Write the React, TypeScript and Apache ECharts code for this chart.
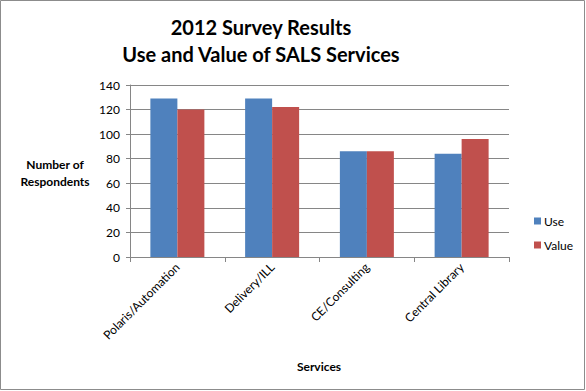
import React, { useEffect, useRef } from "react";
import * as echarts from "echarts";

const categories = ["Polaris/Automation", "Delivery/ILL", "CE/Consulting", "Central Library"];
const useValues = [129, 129, 86, 84];
const valueValues = [120, 122, 86, 96];
const seriesNames = ["Use", "Value"];
const titleLines = ["2012 Survey Results", "Use and Value of SALS Services"];
const yAxisTitle = ["Number of", "Respondents"];
const xAxisTitle = "Services";

const FONT = "Lato, 'Noto Sans', sans-serif";

export default function App() {
  const ref = useRef<HTMLDivElement>(null);
  useEffect(() => {
    if (!ref.current) return;
    const chart = echarts.init(ref.current, null, { renderer: "svg" });
    chart.setOption({
      animation: false,
      backgroundColor: "#ffffff",
      textStyle: { fontFamily: FONT },
      grid: { left: 130, right: 77, top: 85, bottom: 134 },
      legend: {
        orient: "vertical",
        left: 529,
        top: 210,
        itemWidth: 7,
        itemHeight: 7,
        itemGap: 12,
        icon: "rect",
        textStyle: { fontSize: 12, color: "#000", fontFamily: FONT, padding: [0, 0, 0, -2] },
        data: seriesNames,
      },
      xAxis: {
        type: "category",
        data: categories,
        axisLine: { lineStyle: { color: "#868686" } },
        axisTick: { show: true, length: 5, lineStyle: { color: "#868686" } },
        axisLabel: { rotate: 45, fontSize: 12, color: "#000", fontFamily: FONT, margin: 8 },
      },
      yAxis: {
        type: "value",
        min: 0,
        max: 140,
        interval: 20,
        axisLine: { show: true, lineStyle: { color: "#868686" } },
        axisTick: { show: true, length: 4, lineStyle: { color: "#868686" } },
        axisLabel: { fontSize: 12, color: "#000", fontFamily: FONT, margin: 10 },
        splitLine: { lineStyle: { color: "#868686" } },
      },
      series: [
        {
          name: seriesNames[0],
          type: "bar",
          data: useValues,
          itemStyle: { color: "#4F81BD" },
          barGap: "0%",
          barCategoryGap: "43%",
        },
        {
          name: seriesNames[1],
          type: "bar",
          data: valueValues,
          itemStyle: { color: "#C0504D" },
          barGap: "0%",
          barCategoryGap: "43%",
        },
      ],
      graphic: [
        {
          type: "rect",
          shape: { x: 0.5, y: 0.5, width: 584, height: 389 },
          style: { fill: "none", stroke: "#8c8c8c", lineWidth: 1 },
          silent: true,
        },
        {
          type: "text",
          x: 261,
          y: 27,
          style: {
            text: titleLines[0],
            font: `bold 20px ${FONT}`,
            fill: "#000",
            align: "center",
            verticalAlign: "middle",
          },
        },
        {
          type: "text",
          x: 261,
          y: 54,
          style: {
            text: titleLines[1],
            font: `bold 20px ${FONT}`,
            fill: "#000",
            align: "center",
            verticalAlign: "middle",
          },
        },
        {
          type: "text",
          x: 55,
          y: 164,
          style: {
            text: yAxisTitle[0],
            font: `bold 12px ${FONT}`,
            fill: "#000",
            align: "center",
            verticalAlign: "middle",
          },
        },
        {
          type: "text",
          x: 55,
          y: 181,
          style: {
            text: yAxisTitle[1],
            font: `bold 12px ${FONT}`,
            fill: "#000",
            align: "center",
            verticalAlign: "middle",
          },
        },
        {
          type: "text",
          x: 319,
          y: 366,
          style: {
            text: xAxisTitle,
            font: `bold 12px ${FONT}`,
            fill: "#000",
            align: "center",
            verticalAlign: "middle",
          },
        },
      ],
    });
    return () => chart.dispose();
  }, []);
  return (
    <div
      ref={ref}
      style={{ position: "fixed", left: 0, top: 0, width: 586, height: 391 }}
    />
  );
}
